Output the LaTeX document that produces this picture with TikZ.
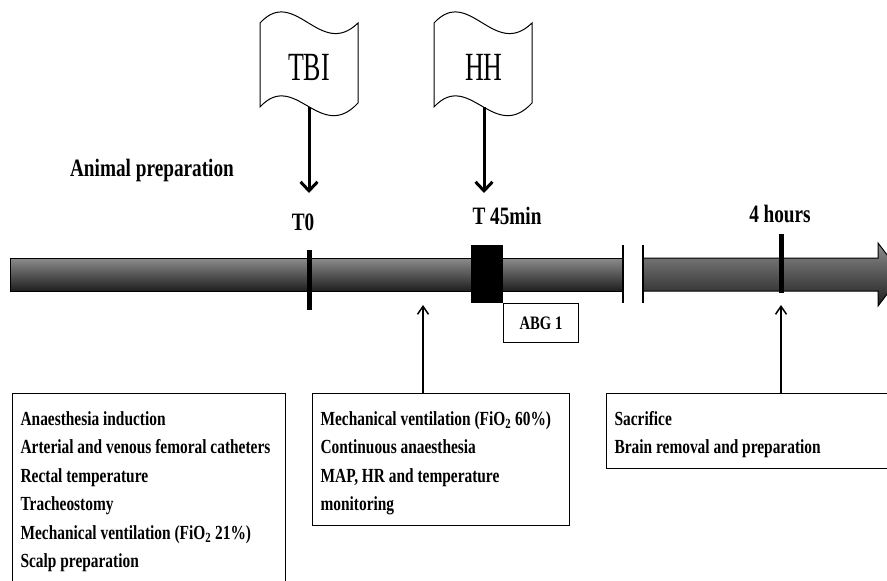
\documentclass[tikz,border=0pt]{standalone}
\usepackage{fontspec}
\setmainfont[FakeStretch=0.77]{Liberation Serif}
\newfontfamily\flagfont[FakeStretch=0.65]{Liberation Serif}
\usetikzlibrary{arrows.meta}

\begin{document}
\begin{tikzpicture}[x=1pt,y=-1pt,line join=miter,
  infobox/.style={draw,line width=1.2pt,align=flush left,anchor=north west,inner xsep=8pt,inner ysep=10.5pt,
    execute at begin node={\rule{0pt}{21pt}},font=\fontsize{20}{28.5}\selectfont\bfseries},
  flagtext/.style={minimum height=80pt,inner sep=0pt,font=\flagfont\fontsize{40}{44}\selectfont},
  timelabel/.style={font=\fontsize{25}{28}\selectfont\bfseries},
  downarrow/.style={-{Straight Barb[length=9pt,width=17pt,line width=3pt]},line width=3pt},
  uparrow/.style={-{Straight Barb[length=8pt,width=11pt,line width=1.5pt]},line width=1.5pt},
  bargrad/.style={top color=black!45,bottom color=black!88,draw=black,line width=1pt}]
\useasboundingbox (0,0) rectangle (887,581);
\clip (0,0) rectangle (887,581);
% time bar
\shade[bargrad] (10,258) rectangle (623,291);
\shade[bargrad] (643,258) -- (878,258) -- (878,243) -- (902,274.5) -- (878,306) -- (878,291) -- (643,291) -- cycle;
\draw[line width=2pt] (623,245) -- (623,303);
\draw[line width=2pt] (643,245) -- (643,303);
\draw[line width=5pt] (309,250) -- (309,310);
\draw[line width=5pt] (781,234) -- (781,293);
\fill (471,245) rectangle (503,303);
% flags
\draw[line width=1pt,fill=white] (260,23) .. controls (295,-15) and (320,60) .. (358,23) -- (358,103) .. controls (320,144) and (295,69) .. (260,107) -- cycle;
\draw[line width=1pt,fill=white] (434,23) .. controls (469,-15) and (494,60) .. (532,23) -- (532,103) .. controls (494,144) and (469,69) .. (434,107) -- cycle;
\node[flagtext] (tbi) at (309,67) {TBI};
\node[flagtext] (hh) at (484,67) {HH};
\coordinate (tbiend) at (309,193);
\coordinate (hhend) at (484,193);
\draw[downarrow] (tbi.south) -- (tbiend);
\draw[downarrow] (hh.south) -- (hhend);
% labels
\node[timelabel] (animal) at (152,170) {Animal preparation};
\node[timelabel] (tzero) at (303,222) {T0};
\node[timelabel] (tmid) at (507,216) {T 45min};
\node[timelabel] (tend) at (780,214) {4 hours};
\node[draw,line width=1pt,anchor=north west,minimum width=75pt,minimum height=39pt,font=\fontsize{19}{22}\selectfont\bfseries] (abg) at (503,303) {ABG 1};
% boxes
\node[infobox,text width=257pt] (prep) at (12,393) {Anaesthesia induction\\Arterial and venous femoral catheters\\Rectal temperature\\Tracheostomy\\Mechanical ventilation (FiO\textsubscript{2} 21\%)\\Scalp preparation};
\node[infobox,text width=241pt] (care) at (312,393) {Mechanical ventilation (FiO\textsubscript{2} 60\%)\\Continuous anaesthesia\\MAP, HR and temperature\\monitoring};
\node[infobox,text width=278pt] (end) at (606,393) {Sacrifice\\Brain removal and preparation};
\coordinate (careend) at (423,305);
\coordinate (endend) at (781,305);
\draw[uparrow] (care.north -| careend) -- (careend);
\draw[uparrow] (end.north -| endend) -- (endend);
\end{tikzpicture}
\end{document}
